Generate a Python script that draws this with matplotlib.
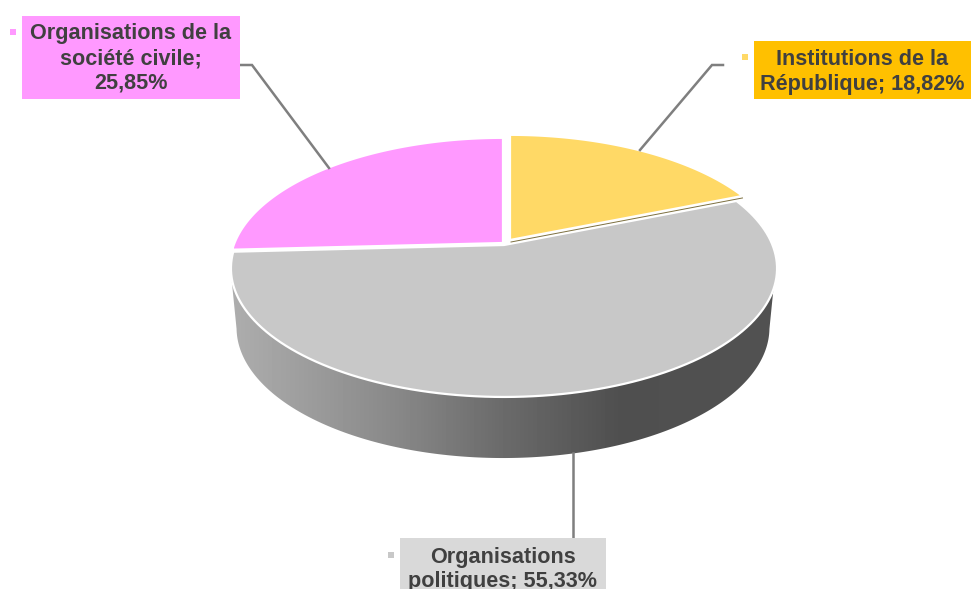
import numpy as np
import matplotlib
matplotlib.use("Agg")
import matplotlib.pyplot as plt
from matplotlib.patches import Polygon, Rectangle

labels = ["Institutions de la\nRépublique; 18,82%",
          "Organisations\npolitiques; 55,33%",
          "Organisations de la\nsociété civile;\n25,85%"]
values = [18.82, 55.33, 25.85]
colors = ["#ffd966", "#c8c8c8", "#ff99ff"]
box_colors = ["#ffc000", "#d9d9d9", "#ff99ff"]


def project(angle, cx=503, cy=243, a=268.5, b=124.3, k=0.182):
    # angle in degrees, clockwise from the top of the pie
    t = np.radians(angle)
    x, y = np.sin(t), np.cos(t)
    d = 1 + k * y
    return cx + a * x / d, cy - b * y / d


fig = plt.figure(figsize=(9.71, 5.89), dpi=100)
ax = fig.add_axes([0, 0, 1, 1])
ax.set_xlim(0, 971)
ax.set_ylim(589, 0)
ax.axis("off")

# side wall, between top rim and lower rim
tx, ty = project(np.linspace(107, 253, 200))
bx, by = project(np.linspace(101, 259, 200), cy=304, a=262, b=126)
wall = Polygon(np.r_[np.c_[tx, ty], np.c_[bx, by][::-1]], closed=True, fc="none", ec="none")
ax.add_patch(wall)
stops_x = [231, 300, 400, 500, 620, 776]
stops_v = [0.68, 0.62, 0.53, 0.42, 0.31, 0.32]
shade = np.interp(np.arange(231, 777), stops_x, stops_v).reshape(1, -1)
im = ax.imshow(shade, cmap="gray", vmin=0, vmax=1, extent=(231, 777, 470, 200), aspect="auto", zorder=1)
im.set_clip_path(wall)
ax.set_xlim(0, 971)
ax.set_ylim(589, 0)

# slices
offsets = [(7, -3), (1, 2), (0, 0)]
edges = np.r_[0, np.cumsum(values)] * 3.6
for i in range(len(values)):
    ang = np.linspace(edges[i], edges[i + 1], 120)
    px, py = project(ang)
    dx, dy = offsets[i]
    pts = np.r_[[[503 + dx, 243 + dy]], np.c_[px + dx, py + dy]]
    ax.add_patch(Polygon(pts, closed=True, fc=colors[i], ec="white", lw=1.6, zorder=2))
    if i == 0:
        # thin edge of the yellow slice seen under its cut
        ax.plot([503 + dx + 1, px[-1] + dx], [243 + dy + 2, py[-1] + dy + 2],
                color="#7d7040", lw=0.7, zorder=3)

# leader lines
leaders = [[(640, 150), (712, 65), (723, 65)],
           [(573, 453), (573, 538)],
           [(240, 65), (252, 65), (329, 168)]]
for line in leaders:
    xs, ys = zip(*line)
    ax.plot(xs, ys, color="#7f7f7f", lw=1.8, zorder=3, solid_joinstyle="miter")

# data labels with their small keys
boxes = [(754, 41, 217, 58), (400, 538, 206, 60), (22, 16, 218, 83)]
keys = [(742, 54), (388, 552), (10, 29)]
text_y = [72, 569.5, 58.5]
for i, lab in enumerate(labels):
    x0, y0, w, h = boxes[i]
    ax.add_patch(Rectangle((x0, y0), w, h, fc=box_colors[i], ec="none", zorder=4))
    ax.add_patch(Rectangle(keys[i], 6, 6, fc=colors[i], ec="none", zorder=4))
    ax.text(x0 + w / 2, text_y[i], lab, ha="center", va="center", ma="center",
            family="Liberation Sans", weight="bold", fontsize=15.6, color="#404040",
            linespacing=1.24, zorder=5)

fig.savefig("out.png", dpi=100)
